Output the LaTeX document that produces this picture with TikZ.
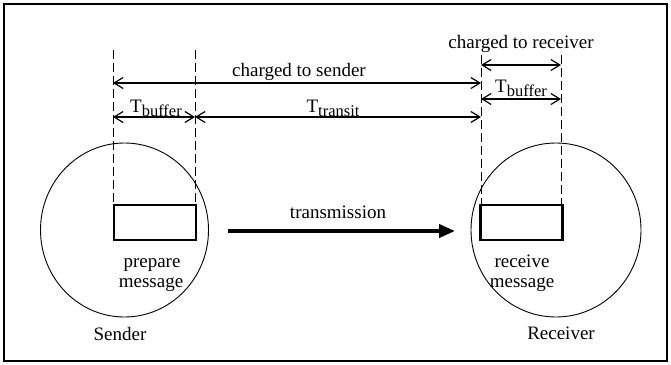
\documentclass[tikz,border=0pt]{standalone}
\usepackage{fontspec}
\setmainfont{Liberation Serif}
\usetikzlibrary{arrows.meta,shapes.geometric}
\newcommand\lowsub[1]{\raisebox{-4pt}{\fontsize{16.5}{17}\selectfont #1}}
\begin{document}
\begin{tikzpicture}[x=1pt,y=-1pt,
  lbl/.style={inner sep=0pt,anchor=base,font=\fontsize{19}{22}\selectfont},
  guide/.style={dash pattern=on 9pt off 4pt,line width=0.7pt},
  dim/.style={line width=1.8pt,{Straight Barb[length=9pt,width=11pt,line width=1.2pt]}-{Straight Barb[length=9pt,width=11pt,line width=1.2pt]}},
  msgbox/.style={draw,line width=2.6pt,inner sep=0pt,minimum width=82pt,minimum height=35pt},
  site/.style={draw,ellipse,line width=0.9pt,inner sep=0pt}]
\useasboundingbox (0,0) rectangle (671,364);
\draw[line width=1.4pt] (4,4) rectangle (667,361);
% sites
\node[site,minimum width=168pt,minimum height=174pt] (S) at (124.5,230) {};
\node[site,minimum width=170pt,minimum height=174pt] (R) at (556,230) {};
% message boxes
\node[msgbox] (sb) at (155,222.5) {};
\node[msgbox] (rb) at (521.5,222.5) {};
% guide line tops
\coordinate (s1) at (113,50);
\coordinate (s2) at (195,50);
\coordinate (r1) at (481,55);
\coordinate (r2) at (561,55);
\coordinate (s1b) at (113,205);
\coordinate (s2b) at (195,205);
\coordinate (r1b) at (481,205);
\coordinate (r2b) at (561,205);
\draw[guide] (s1) -- (s1b);
\draw[guide] (s2) -- (s2b);
\draw[guide] (r1) -- (r1b);
\draw[guide] (r2) -- (r2b);
% dimension arrows
\draw[dim] (r1 |- 0,65) coordinate (cr1) -- (r2 |- 0,65) coordinate (cr2);
\draw[dim] (r1 |- 0,99) coordinate (br1) -- (r2 |- 0,99) coordinate (br2);
\draw[dim] (s1 |- 0,83) coordinate (cs1) -- (r1 |- 0,83) coordinate (cs2);
\draw[dim] (s1 |- 0,117) coordinate (bs1) -- (s2 |- 0,117) coordinate (bs2);
\draw[dim] (bs2) -- (r1 |- 0,117) coordinate (tr2);
% labels
\node[lbl] (lcr) at (521,48) {charged to receiver};
\node[lbl] (lbr) at (521,92) {T\lowsub{buffer}};
\node[lbl] (lcs) at (299,76) {charged to sender};
\node[lbl] (lbs) at (156,112) {T\lowsub{buffer}};
\node[lbl] (ltr) at (333,112) {T\lowsub{transit}};
% transmission
\coordinate (t1) at (228,231);
\coordinate (t2) at (455,231);
\draw[line width=3.8pt,-{Triangle[length=16pt,width=13pt]}] (t1) -- (t2);
\node[lbl] (ltx) at (338,218) {transmission};
% captions
\node[lbl] (p1) at (152,267) {prepare};
\node[lbl] (p2) at (151,287) {message};
\node[lbl] (q1) at (522,267) {receive};
\node[lbl] (q2) at (522,287) {message};
\node[lbl] (ls) at (120,340) {Sender};
\node[lbl] (lr) at (561,339) {Receiver};
\end{tikzpicture}
\end{document}
